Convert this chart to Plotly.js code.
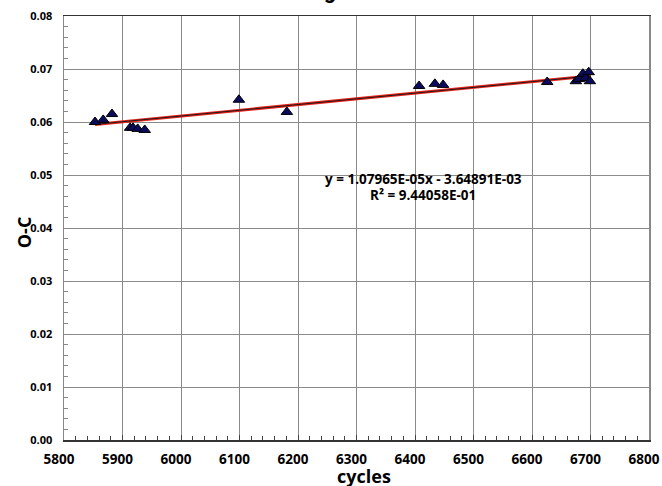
<!DOCTYPE html>
<html>
<head>
<meta charset="utf-8">
<script src="https://cdn.plot.ly/plotly-3.0.1.min.js"></script>
<style>html,body{margin:0;padding:0;background:#fff;}#chart{width:662px;height:486px;}</style>
</head>
<body>
<div id="chart"></div>
<script>
// Observed O-C values
const cycles = [5853, 5867, 5882, 5913, 5918, 5926, 5938, 6099, 6181, 6407, 6434, 6448, 6626, 6675, 6680, 6687, 6692, 6697, 6699];
const oc     = [0.0600, 0.0604, 0.0615, 0.0589, 0.0589, 0.0587, 0.0585, 0.0642, 0.0619, 0.0668, 0.0672, 0.0670, 0.06755, 0.0677, 0.0681, 0.0691, 0.0683, 0.0694, 0.0677];
// Linear fit coefficients (from chart label)
const slope = 1.07965E-05;
const intercept = -3.64891E-03;
const r2 = 9.44058E-01;
const fitX = [5853, 6700];
const fitY = fitX.map(x => slope * x + intercept);

const font = "Open Sans, Liberation Sans, sans-serif";
const fmt = v => v.toExponential(5).toUpperCase().replace(/E([+-])(\d)$/, 'E$10$2');

const traces = [
  {x: fitX, y: fitY, mode: 'lines', line: {color: '#e8231a', width: 3}, hoverinfo: 'skip', showlegend: false},
  {x: fitX, y: fitY, mode: 'lines', line: {color: '#1a1a1a', width: 1}, hoverinfo: 'skip', showlegend: false},
  {x: cycles, y: oc, mode: 'markers', type: 'scatter',
   marker: {symbol: 'triangle-up', size: 10, color: '#0b0b5c', line: {color: '#000', width: 1}}, showlegend: false}
];

const layout = {
  width: 662, height: 486,
  margin: {l: 64, r: 13, t: 16, b: 46},
  paper_bgcolor: '#fff', plot_bgcolor: '#fff',
  font: {family: font, color: '#000'},
  xaxis: {
    range: [5800, 6800], dtick: 100, tick0: 5800,
    showgrid: true, gridcolor: '#8a8a8a', gridwidth: 1,
    zeroline: false, showline: true, linecolor: '#333', linewidth: 1.5, mirror: true,
    ticks: 'inside', ticklen: 5, tickcolor: '#444',
    minor: {dtick: 20, ticks: 'inside', ticklen: 4, tickcolor: '#444', showgrid: false},
    tickfont: {size: 13.5, family: font, weight: 'bold'},
    ticklabelstandoff: 6, ticklabelshift: -5, ticklabeloverflow: 'allow'
  },
  yaxis: {
    range: [0, 0.08], dtick: 0.01, tickformat: '.2f',
    showgrid: true, gridcolor: '#8a8a8a', gridwidth: 1,
    zeroline: false, showline: true, linecolor: '#888', linewidth: 1.5, mirror: true,
    ticks: 'inside', ticklen: 5, tickcolor: '#888',
    minor: {dtick: 0.002, ticks: 'inside', ticklen: 4, tickcolor: '#888', showgrid: false},
    tickfont: {size: 11, family: font, weight: 'bold'},
    ticklabelstandoff: 8
  },
  annotations: [
    {xref: 'paper', yref: 'paper', x: 0.513, y: -0.084, xanchor: 'center', yanchor: 'middle',
     text: 'cycles', showarrow: false, font: {size: 18, family: font, weight: 'bold'}},
    {xref: 'paper', yref: 'paper', x: -0.0684, y: 0.49, xanchor: 'center', yanchor: 'middle', textangle: -90,
     text: 'O-C', showarrow: false, font: {size: 18, family: font, weight: 'bold'}},
    {xref: 'paper', yref: 'paper', x: 0.614, y: 0.615, xanchor: 'center', yanchor: 'middle',
     text: 'y = ' + fmt(slope) + 'x - ' + fmt(Math.abs(intercept)),
     showarrow: false, font: {size: 13.5, family: font, weight: 'bold'}},
    {xref: 'paper', yref: 'paper', x: 0.614, y: 0.577, xanchor: 'center', yanchor: 'middle',
     text: 'R² = ' + fmt(r2),
     showarrow: false, font: {size: 13.5, family: font, weight: 'bold'}},
    {xref: 'paper', yref: 'paper', x: 0.315, y: 1, xanchor: 'left', yanchor: 'bottom', yshift: 11.4,
     text: 'O-C diagram', showarrow: false, font: {size: 22, family: 'Roboto, sans-serif', weight: 'bold'}}
  ]
};

Plotly.newPlot('chart', traces, layout, {displayModeBar: false, staticPlot: true});
</script>
</body>
</html>
